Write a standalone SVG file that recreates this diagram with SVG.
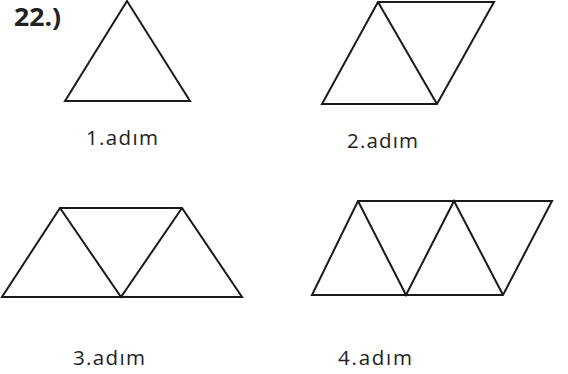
<svg xmlns="http://www.w3.org/2000/svg" width="568" height="374" viewBox="0 0 568 374">
<style>
.s{fill:none;stroke:#1a1a1a;stroke-width:2;stroke-linejoin:miter}
.l{font-family:"Open Sans","Liberation Sans",sans-serif;font-size:20.5px;fill:#222}
.t{font-family:"Open Sans","Liberation Sans",sans-serif;font-size:25px;font-weight:bold;fill:#222}
</style>
<rect width="568" height="374" fill="#fff"/>
<g id="title"><text class="t" x="14" y="26" textLength="47" lengthAdjust="spacingAndGlyphs">22.)</text></g>
<g id="step1">
<polygon class="s" points="127,1 190,101 65,101"/>
<text class="l" x="86" y="145" textLength="72" lengthAdjust="spacing">1.adım</text>
</g>
<g id="step2">
<polygon class="s" points="378,2 494,2 437,104 322,104"/>
<line class="s" x1="378" y1="2" x2="437" y2="104"/>
<text class="l" x="347" y="148" textLength="71" lengthAdjust="spacing">2.adım</text>
</g>
<g id="step3">
<polygon class="s" points="60,208 182,208 242,297 2,297"/>
<polyline class="s" points="60,208 121,297 182,208"/>
<text class="l" x="73" y="365" textLength="72" lengthAdjust="spacing">3.adım</text>
</g>
<g id="step4">
<polygon class="s" points="358,201 552,201 503,295 312,295"/>
<polyline class="s" points="358,201 406,295 454,201 503,295"/>
<text class="l" x="338" y="365" textLength="74" lengthAdjust="spacing">4.adım</text>
</g>
<g id="connectors"></g>
</svg>
